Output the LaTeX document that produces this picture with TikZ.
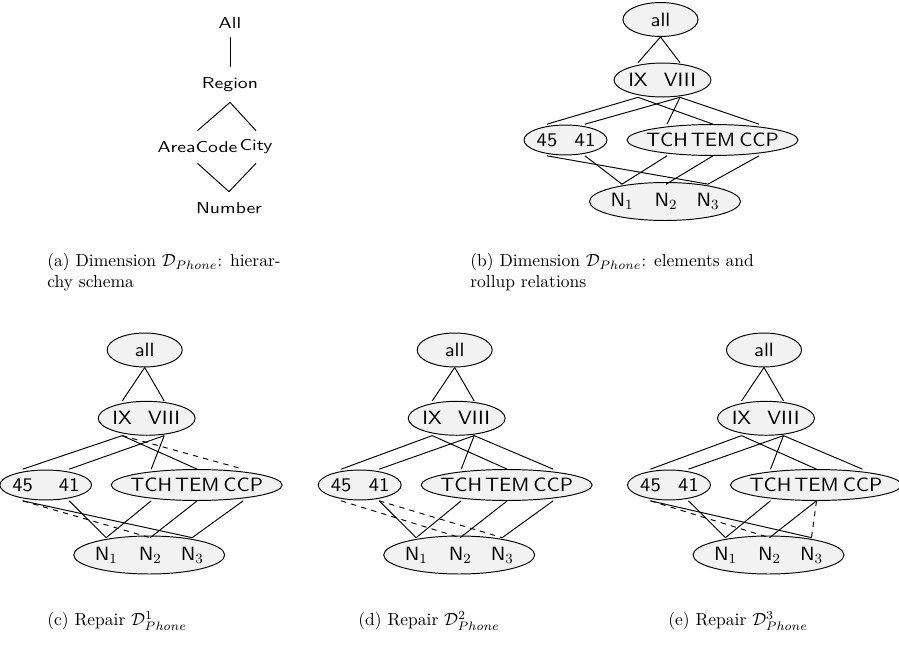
\documentclass[tikz,border=0pt]{standalone}
\usepackage{amsmath,amssymb}
\usepackage{fontspec}
\usetikzlibrary{shapes.geometric,positioning}
\newfontfamily\elemfont{lmsans10-regular.otf}[FakeStretch=1.07]
\newfontfamily\schemfont{lmsans10-regular.otf}[FakeStretch=1.25]
\definecolor{ellfill}{gray}{0.95}
\tikzset{
  lvl/.style={ellipse, draw, fill=ellfill, inner sep=0pt, line width=0.55pt},
  elem/.style={inner sep=0pt, font=\fontsize{11}{13}\elemfont},
  schem/.style={inner sep=0pt, minimum height=18.3pt, font=\fontsize{9}{11}\schemfont},
  roll/.style={line width=0.55pt},
  fix/.style={roll, dashed},
  capt/.style={anchor=north west, inner sep=0pt, align=left},
}

\begin{document}
\begin{tikzpicture}[x=0.5714pt,y=-0.5714pt]
  \useasboundingbox (0,0) rectangle (899,650);
  % (a) hierarchy schema
  \node[schem, minimum height=16pt] (all) at (230,23) {All};
  \node[schem, minimum height=20pt] (region) at (230,84.5) {Region};
  \node[schem] (areacode) at (197.5,147) {AreaCode};
  \node[schem] (city) at (256,147) {City};
  \node[schem] (number) at (229,208) {Number};
  \draw[roll] (all) -- (region);
  \foreach \u/\v in {region/areacode,region/city,areacode/number,city/number}
    \draw[roll] (\u.south) -- (\v.north);
  % (b)-(e) elements and rollups
  \foreach \tag/\ox/\oy/\ga/\gb/\gc/\fx/\ex/\ew in {
      b/660.5/19.5/60.5/120.5/182/-113.5/-95/47.4pt,
      c/144.7/350/68.3/135/205/-122/-99/52.4pt,
      d/454.7/350/68.3/135/205/-113.5/-95/47.4pt,
      e/764/350/68.3/135/205/-113.5/-95/47.4pt} {
    \begin{scope}[shift={(\ox,\oy)}]
      \node[lvl, elem, minimum width=42.9pt, minimum height=19.4pt] (\tag-all) at (0,0) {all};
      \node[lvl, minimum width=55.4pt, minimum height=19.4pt] (\tag-reg) at (2,\ga) {};
      \node[lvl, minimum width=\ew, minimum height=17.1pt] (\tag-code) at (\ex,\gb) {};
      \node[lvl, minimum width=97.7pt, minimum height=17.7pt] (\tag-cty) at (52,\gb) {};
      \node[lvl, minimum width=86.3pt, minimum height=21.7pt] (\tag-num) at (4.5,\gc) {};
      \foreach \n/\x/\y/\h/\t in {ix/-22.5/\ga/19.4/IX, viii/19.5/\ga/19.4/VIII,
          45/\fx/\gb/17.7/45, 41/-75.5/\gb/17.7/41,
          tch/6.5/\gb/17.7/TCH, tem/52.5/\gb/17.7/TEM, ccp/98.5/\gb/17.7/CCP,
          n1/-38.5/\gc/19.4/N$_1$, n2/5.5/\gc/19.4/N$_2$, n3/47.5/\gc/19.4/N$_3$}
        \node[elem, minimum height=\h pt] (\tag-\n) at (\x,\y) {\t};
      \foreach \u/\v in {all/ix,all/viii,ix/45,viii/41,viii/tch,ix/tem,41/n1,tch/n1,tem/n2}
        \draw[roll] (\tag-\u.south) -- (\tag-\v.north);
    \end{scope}
  }
  % what differs
  \foreach \u/\v in {b-viii/b-ccp,b-45/b-n3,b-ccp/b-n3,
                     c-45/c-n3,c-ccp/c-n3,
                     d-viii/d-ccp,d-ccp/d-n3,
                     e-viii/e-ccp,e-45/e-n3}
    \draw[roll] (\u.south) -- (\v.north);
  \foreach \u/\v in {c-ix/c-ccp,c-45/c-n2,d-45/d-n2,d-41/d-n3,e-45/e-n2,e-tem/e-n3}
    \draw[fix] (\u.south) -- (\v.north);
  % captions
  \node[capt] (cap-a) at (47,253)
    {(a) Dimension $\mathcal{D}_{Phone}$: hierar-\\chy schema};
  \node[capt] (cap-b) at (470,253)
    {(b) Dimension $\mathcal{D}_{Phone}$: elements and\\rollup relations};
  \node[capt] (cap-c) at (47,611) {(c) Repair $\mathcal{D}^1_{Phone}$};
  \node[capt] (cap-d) at (358,611) {(d) Repair $\mathcal{D}^2_{Phone}$};
  \node[capt] (cap-e) at (668,611) {(e) Repair $\mathcal{D}^3_{Phone}$};
\end{tikzpicture}
\end{document}
